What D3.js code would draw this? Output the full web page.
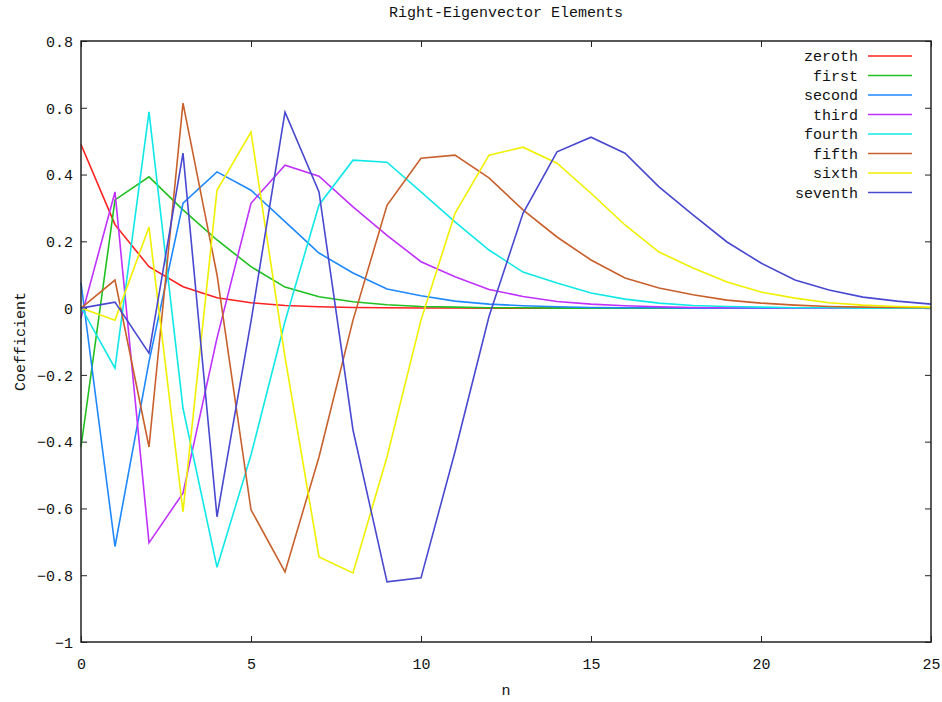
<!DOCTYPE html>
<html>
<head>
<meta charset="utf-8">
<script src="https://cdn.jsdelivr.net/npm/d3@7"></script>
<style>
  html, body { margin: 0; padding: 0; background: #fff; }
  svg text { font-family: "Liberation Mono", "DejaVu Sans Mono", monospace; font-size: 15px; fill: #111; }
</style>
</head>
<body>
<svg id="chart" width="942" height="702"></svg>
<script>
const titleText = "Right-Eigenvector Elements";
const xLabel = "n";
const yLabel = "Coefficient";
const nValues = d3.range(0, 26);
const xTicks = [0, 5, 10, 15, 20, 25];
const yTicks = [-1, -0.8, -0.6, -0.4, -0.2, 0, 0.2, 0.4, 0.6, 0.8];
const seriesNames = ["zeroth", "first", "second", "third", "fourth", "fifth", "sixth", "seventh"];
const seriesColors = ["#ff2020", "#20c020", "#1e88ff", "#c030ff", "#10e8e8", "#c8602c", "#f0f000", "#4848d0"];

const zeroth  = [0.49, 0.25, 0.124, 0.064, 0.031, 0.016, 0.008, 0.004, 0.002, 0.001, 0.0005, 0.0003, 0.0001, 0, 0, 0, 0, 0, 0, 0, 0, 0, 0, 0, 0, 0];
const first   = [-0.416, 0.324, 0.393, 0.294, 0.204, 0.124, 0.063, 0.034, 0.019, 0.01, 0.005, 0.003, 0.001, 0.001, 0, 0, 0, 0, 0, 0, 0, 0, 0, 0, 0, 0];
const second  = [0.076, -0.714, -0.16, 0.314, 0.408, 0.353, 0.259, 0.165, 0.105, 0.057, 0.037, 0.021, 0.012, 0.007, 0.004, 0.002, 0.001, 0.001, 0, 0, 0, 0, 0, 0, 0, 0];
const third   = [-0.03, 0.348, -0.703, -0.554, -0.09, 0.314, 0.428, 0.395, 0.303, 0.218, 0.139, 0.094, 0.056, 0.035, 0.02, 0.012, 0.007, 0.004, 0.002, 0.001, 0.001, 0, 0, 0, 0, 0];
const fourth  = [0.003, -0.18, 0.588, -0.3, -0.776, -0.44, -0.04, 0.309, 0.443, 0.437, 0.348, 0.258, 0.174, 0.108, 0.075, 0.045, 0.027, 0.015, 0.008, 0.005, 0.003, 0.001, 0.001, 0, 0, 0];
const fifth   = [0, 0.084, -0.416, 0.614, 0.1, -0.604, -0.79, -0.446, -0.036, 0.308, 0.449, 0.458, 0.39, 0.294, 0.213, 0.144, 0.09, 0.06, 0.04, 0.024, 0.015, 0.009, 0.005, 0.003, 0.002, 0.001];
const sixth   = [0, -0.036, 0.243, -0.61, 0.353, 0.527, -0.147, -0.745, -0.793, -0.446, -0.036, 0.284, 0.458, 0.482, 0.434, 0.344, 0.249, 0.168, 0.12, 0.078, 0.048, 0.03, 0.016, 0.009, 0.005, 0.003];
const seventh = [0, 0.018, -0.135, 0.464, -0.625, -0.04, 0.587, 0.348, -0.365, -0.82, -0.808, -0.43, -0.025, 0.284, 0.468, 0.512, 0.464, 0.363, 0.279, 0.198, 0.135, 0.084, 0.054, 0.033, 0.021, 0.012];
const seriesValues = [zeroth, first, second, third, fourth, fifth, sixth, seventh];

const W = 942, H = 702;
const margin = { left: 81, right: 11, top: 41, bottom: 60 };
const svg = d3.select("#chart");

const x = d3.scaleLinear().domain([0, 25]).range([margin.left, W - margin.right]);
const y = d3.scaleLinear().domain([-1, 0.8]).range([H - margin.bottom, margin.top]);

const tickLen = 6;
const gB = svg.append("g").attr("transform", `translate(0,${y(-1)})`)
  .call(d3.axisBottom(x).tickValues(xTicks).tickSizeInner(-tickLen).tickSizeOuter(0).tickPadding(16).tickFormat(d3.format("d")));
const gT = svg.append("g").attr("transform", `translate(0,${y(0.8)})`)
  .call(d3.axisTop(x).tickValues(xTicks).tickSizeInner(-tickLen).tickSizeOuter(0).tickFormat(""));
const gL = svg.append("g").attr("transform", `translate(${x(0)},0)`)
  .call(d3.axisLeft(y).tickValues(yTicks).tickSizeInner(-tickLen).tickSizeOuter(0).tickPadding(8).tickFormat(d => d3.format("")(+d.toFixed(1))));
const gR = svg.append("g").attr("transform", `translate(${x(25)},0)`)
  .call(d3.axisRight(y).tickValues(yTicks).tickSizeInner(-tickLen).tickSizeOuter(0).tickFormat(""));
[gB, gT, gL, gR].forEach(g => {
  g.select(".domain").remove();
  g.selectAll(".tick line").attr("stroke", "#222").attr("stroke-width", 1);
  g.selectAll("text").attr("font-family", null).attr("font-size", null);
});
gL.selectAll("text").attr("dy", "0.35em");

const line = d3.line().x((d, i) => x(nValues[i])).y(d => y(d));
seriesValues.forEach((vals, k) => {
  svg.append("path").datum(vals)
    .attr("fill", "none")
    .attr("stroke", seriesColors[k])
    .attr("stroke-width", 1.6)
    .attr("stroke-linejoin", "miter")
    .attr("d", line);
});

svg.append("rect")
  .attr("x", x(0)).attr("y", y(0.8))
  .attr("width", x(25) - x(0)).attr("height", y(-1) - y(0.8))
  .attr("fill", "none").attr("stroke", "#222").attr("stroke-width", 1.5);

const legX = 858, legY = 56, legStep = 19.5;
seriesNames.forEach((name, k) => {
  const yy = legY + k * legStep;
  svg.append("text").attr("x", legX).attr("y", yy).attr("dy", "0.35em")
    .attr("text-anchor", "end").text(name);
  svg.append("line").attr("x1", legX + 10).attr("x2", legX + 54)
    .attr("y1", yy).attr("y2", yy)
    .attr("stroke", seriesColors[k]).attr("stroke-width", 1.6);
});

svg.append("text").attr("x", (x(0) + x(25)) / 2).attr("y", 12).attr("dy", "0.35em")
  .attr("text-anchor", "middle").text(titleText);
svg.append("text").attr("x", (x(0) + x(25)) / 2).attr("y", 690).attr("dy", "0.35em")
  .attr("text-anchor", "middle").text(xLabel);
svg.append("text").attr("transform", `translate(20,${(y(-1) + y(0.8)) / 2}) rotate(-90)`)
  .attr("dy", "0.35em").attr("text-anchor", "middle").text(yLabel);
</script>
</body>
</html>
